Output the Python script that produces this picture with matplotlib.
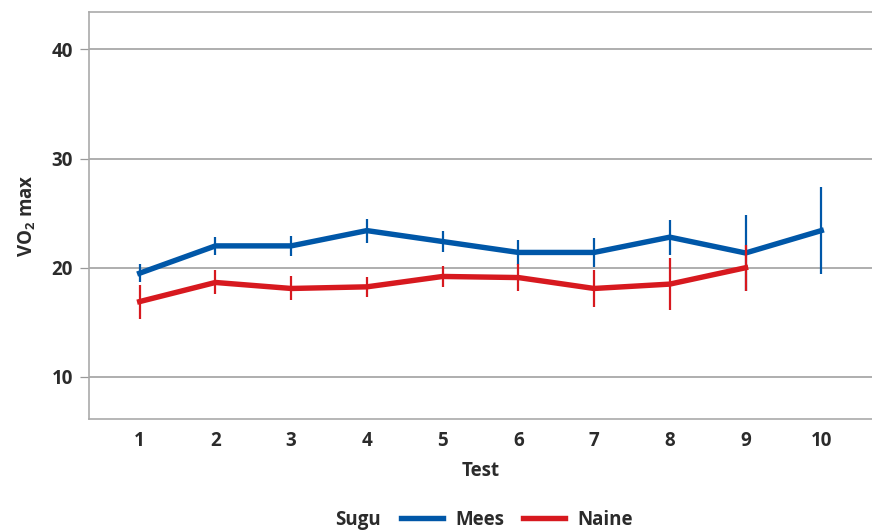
import matplotlib
matplotlib.use("Agg")
import matplotlib.pyplot as plt
from matplotlib.lines import Line2D

tests = [1, 2, 3, 4, 5, 6, 7, 8, 9, 10]

mees_mean = [19.5, 22.0, 22.0, 23.4, 22.4, 21.4, 21.4, 22.8, 21.35, 23.4]
mees_err = [0.8, 0.8, 0.9, 1.1, 0.95, 1.15, 1.3, 1.6, 3.45, 3.95]

naine_tests = [1, 2, 3, 4, 5, 6, 7, 8, 9]
naine_mean = [16.9, 18.65, 18.1, 18.25, 19.2, 19.1, 18.1, 18.5, 20.0]
naine_err = [1.55, 1.1, 1.1, 0.9, 0.95, 1.25, 1.7, 2.4, 2.1]

y_ticks = [10, 20, 30, 40]

BLUE = "#0057A8"
RED = "#D7191F"
TEXT = "#2b2b2b"
FS = 13.5

plt.rcParams["font.family"] = ["Open Sans", "DejaVu Sans"]
plt.rcParams["mathtext.default"] = "regular"

fig = plt.figure(figsize=(8.72, 5.31), dpi=100)
ax = fig.add_axes([0.102, 0.211, 0.898, 0.766])

for x, mean, err, col in [
    (tests, mees_mean, mees_err, BLUE),
    (naine_tests, naine_mean, naine_err, RED),
]:
    ax.plot(x, mean, color=col, lw=3.9, solid_joinstyle="miter", zorder=3)
    ax.errorbar(x, mean, yerr=err, fmt="none", ecolor=col, elinewidth=1.6,
                capsize=0, zorder=3)

ax.set_xlim(0.33, 10.67)
ax.set_ylim(6.15, 43.4)
ax.set_xticks(tests)
ax.set_yticks(y_ticks)
ax.tick_params(axis="x", length=0, pad=9, labelsize=FS, labelcolor=TEXT)
ax.tick_params(axis="y", length=6.5, width=0.9, color="#999999", pad=5,
               labelsize=FS, labelcolor=TEXT)
for lab in ax.get_xticklabels() + ax.get_yticklabels():
    lab.set_fontweight("bold")

ax.grid(axis="y", color="#999999", lw=1.1, zorder=1)
ax.set_axisbelow(True)

for side in ["left", "top", "bottom"]:
    ax.spines[side].set_color("#aaaaaa")
    ax.spines[side].set_linewidth(1.2)
ax.spines["right"].set_visible(False)

ax.set_xlabel("Test", fontsize=FS, fontweight="bold", color=TEXT, labelpad=7)
ax.set_ylabel("VO$_2$ max", fontsize=FS, fontweight="bold", color=TEXT,
              labelpad=10)

# legend: title text on the left, entries in a single row beside it
legend_y = 1 - 520 / 531
fig.text(335 / 872, legend_y, "Sugu", fontsize=FS, fontweight="bold",
         color=TEXT, ha="left", va="center")
handles = [Line2D([], [], color=BLUE, lw=3.9), Line2D([], [], color=RED, lw=3.9)]
leg = fig.legend(handles, ["Mees", "Naine"], loc="center left",
                 bbox_to_anchor=(401 / 872, legend_y), ncol=2, frameon=False,
                 borderpad=0, borderaxespad=0,
                 handlelength=2.25, handletextpad=0.65, columnspacing=1.0,
                 prop={"weight": "bold", "size": FS})
for t in leg.get_texts():
    t.set_color(TEXT)

fig.savefig("out.png", dpi=100)
